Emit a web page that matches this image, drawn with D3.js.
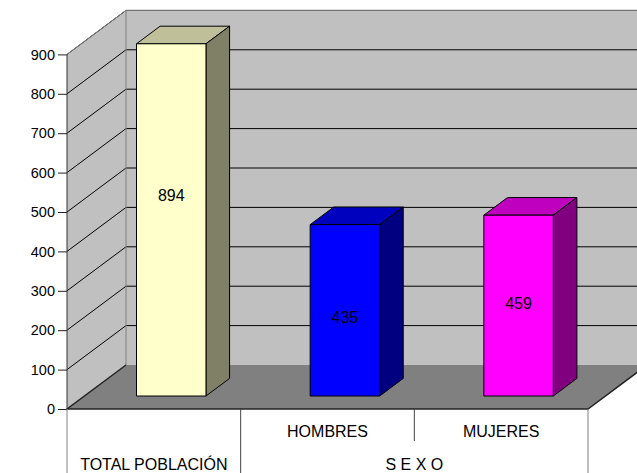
<!DOCTYPE html>
<html>
<head>
<meta charset="utf-8">
<script src="https://cdn.jsdelivr.net/npm/d3@7/dist/d3.min.js"></script>
<style>
  html, body { margin: 0; padding: 0; background: #ffffff; }
  svg { display: block; }
  text { font-family: "Liberation Sans", Arial, Helvetica, sans-serif; fill: #000; }
</style>
</head>
<body>
<svg id="chart" width="637" height="473"></svg>
<script>
// Población por sexo
const categories = ["TOTAL POBLACIÓN", "HOMBRES", "MUJERES"];
const values = [894, 435, 459];
const groupLabel = "S E X O";
const yTicks = [0, 100, 200, 300, 400, 500, 600, 700, 800, 900];

// colour of each bar: front, top, side faces
const frontColors = ["#FFFFCC", "#0000FF", "#FF00FF"];
const topColors   = ["#BFBF99", "#0000BF", "#BF00BF"];
const sideColors  = ["#808066", "#000080", "#800080"];

const svg = d3.select("#chart");

// front plane of the plot box and its 3-D depth offset
const plotL = 67, plotR = 588, plotB = 409, plotT = 54.4;
const DX = 59, DY = 44;

const y = d3.scaleLinear().domain([0, 900]).range([plotB, plotT]);
const x = d3.scaleBand().domain(categories).range([plotL, plotR]).padding(0);

// project a point in the front plane pushed back by a depth fraction d
const P = (px, py, d) => [px + d * DX, py - d * DY];
const poly = pts => "M" + pts.map(p => p.join(",")).join("L") + "Z";

const yTop = y(900), y0 = y(0);

// back wall
svg.append("path")
  .attr("d", poly([P(plotL, yTop, 1), P(plotR, yTop, 1), P(plotR, y0, 1), P(plotL, y0, 1)]))
  .attr("fill", "#C0C0C0").attr("stroke", "none");
// side wall
svg.append("path")
  .attr("d", poly([P(plotL, yTop, 0), P(plotL, yTop, 1), P(plotL, y0, 1), P(plotL, y0, 0)]))
  .attr("fill", "#C0C0C0").attr("stroke", "none");

// gridlines: diagonal on the side wall, horizontal on the back wall
const grid = svg.append("g").attr("fill", "none").attr("stroke", "#000").attr("stroke-width", 1);
yTicks.filter(t => t > 0).forEach(t => {
  const a = P(plotL, y(t), 0), b = P(plotL, y(t), 1), c = P(plotR, y(t), 1);
  grid.append("path").attr("d", `M${a}L${b}L${c}`);
});

// wall edges
svg.append("path")
  .attr("d", `M${P(plotL, yTop, 0)}L${P(plotL, yTop, 1)}L${P(plotR, yTop, 1)}`)
  .attr("fill", "none").attr("stroke", "#808080");
svg.append("path")
  .attr("d", `M${P(plotL, yTop, 1)}L${P(plotL, y0, 1)}`)
  .attr("fill", "none").attr("stroke", "#808080");

// floor
svg.append("path")
  .attr("d", poly([P(plotL, y0, 0), P(plotR, y0, 0), P(plotR, y0, 1), P(plotL, y0, 1)]))
  .attr("fill", "#808080").attr("stroke", "none");
svg.append("path")
  .attr("d", `M${P(plotL, y0, 1)}L${P(plotL, y0, 0)}L${P(plotR, y0, 0)}L${P(plotR, y0, 1)}`)
  .attr("fill", "none").attr("stroke", "#222").attr("stroke-width", 1.5);

// value axis
const axis = svg.append("g").attr("transform", `translate(${plotL},0)`)
  .call(d3.axisLeft(y).tickValues(yTicks).tickSize(9).tickPadding(3).tickFormat(d3.format("d")));
axis.select(".domain").attr("stroke", "#333").attr("d", `M0,${yTop}V${y0}`);
axis.selectAll(".tick line").attr("stroke", "#222");
axis.selectAll(".tick text")
  .style("font-family", '"Liberation Sans", Arial, sans-serif')
  .style("font-size", "14.5px").attr("fill", "#000");

// bars
const D0 = 0.295, D1 = 0.695, barFrac = 0.4;
const bars = svg.append("g");
categories.forEach((c, i) => {
  const v = values[i];
  const cx = x(c) + x.bandwidth() / 2;
  const w = x.bandwidth() * barFrac;
  const x0 = cx - w / 2, x1 = cx + w / 2;
  const g = bars.append("g").attr("stroke", "#000").attr("stroke-width", 1).attr("stroke-linejoin", "round");
  // top face
  g.append("path").attr("fill", topColors[i])
    .attr("d", poly([P(x0, y(v), D0), P(x1, y(v), D0), P(x1, y(v), D1), P(x0, y(v), D1)]));
  // side face
  g.append("path").attr("fill", sideColors[i])
    .attr("d", poly([P(x1, y(v), D0), P(x1, y(v), D1), P(x1, y0, D1), P(x1, y0, D0)]));
  // front face
  g.append("path").attr("fill", frontColors[i])
    .attr("d", poly([P(x0, y(v), D0), P(x1, y(v), D0), P(x1, y0, D0), P(x0, y0, D0)]));
});

// value labels on the front faces
const labelLevel = [0.57, 0.46, 0.51];
categories.forEach((c, i) => {
  const cx = x(c) + x.bandwidth() / 2;
  const p = P(cx, y(values[i] * labelLevel[i]), D0);
  svg.append("text")
    .attr("x", p[0]).attr("y", p[1]).attr("dy", "0.35em")
    .attr("text-anchor", "middle")
    .style("font-size", "16px")
    .text(values[i]);
});

// category table below the floor
const table = svg.append("g").attr("fill", "none");
table.append("line").attr("x1", plotL).attr("x2", plotL).attr("y1", y0).attr("y2", 473).attr("stroke", "#808080");
table.append("line").attr("x1", plotR).attr("x2", plotR).attr("y1", y0).attr("y2", 473).attr("stroke", "#808080");
table.append("line").attr("x1", x(categories[1])).attr("x2", x(categories[1])).attr("y1", y0).attr("y2", 473).attr("stroke", "#444");
table.append("line").attr("x1", x(categories[2])).attr("x2", x(categories[2])).attr("y1", y0).attr("y2", y0 + 32).attr("stroke", "#444");

categories.slice(1).forEach(c => {
  svg.append("text")
    .attr("x", x(c) + x.bandwidth() / 2).attr("y", 437)
    .attr("text-anchor", "middle").style("font-size", "16px")
    .text(c);
});
svg.append("text")
  .attr("x", x(categories[0]) + x.bandwidth() / 2).attr("y", 470)
  .attr("text-anchor", "middle").style("font-size", "16px")
  .text(categories[0]);
svg.append("text")
  .attr("x", (x(categories[1]) + plotR) / 2).attr("y", 470)
  .attr("text-anchor", "middle").style("font-size", "16px")
  .text(groupLabel);
</script>
</body>
</html>
